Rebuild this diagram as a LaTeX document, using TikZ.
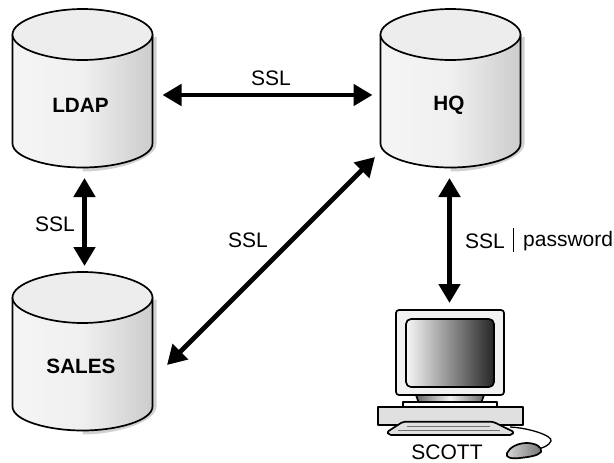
\documentclass[tikz,border=0pt]{standalone}
\usepackage{fontspec}
\setmainfont{Liberation Sans}
\usetikzlibrary{arrows.meta}
\definecolor{topc}{gray}{0.93}
\definecolor{shadowc}{gray}{0.82}
\tikzset{
  x=1pt,y=-1pt,
  dbbox/.style={minimum width=140pt,minimum height=158pt,inner sep=0pt,outer sep=0pt},
  dbtext/.style={font=\fontsize{20.7}{22}\selectfont\bfseries,inner sep=0pt},
  lbl/.style={font=\fontsize{21}{23}\selectfont,inner sep=0pt},
  link/.style={line width=4.8pt,{Triangle[length=19pt,width=21pt]}-{Triangle[length=19pt,width=21pt]}},
  outl/.style={draw=black,line width=1.7pt,line join=round}
}
\newcommand{\dbcyl}[2]{% left x, top-center y
  \fill[shadowc] (#1+144,#2+2) -- (#1+144,#2+109) .. controls (#1+144,#2+124) and (#1+105,#2+137) .. (#1+70,#2+137) -- (#1+70,#2+20) -- cycle;
  \path[outl,left color=white!96!black,right color=black!20,middle color=black!6]
    (#1,#2) -- (#1,#2+109) .. controls (#1,#2+123) and (#1+35,#2+133) .. (#1+70,#2+133)
    .. controls (#1+105,#2+133) and (#1+140,#2+123) .. (#1+140,#2+109) -- (#1+140,#2) -- cycle;
  \path[outl,fill=topc] (#1,#2) .. controls (#1,#2-14) and (#1+35,#2-25.5) .. (#1+70,#2-25.5)
    .. controls (#1+105,#2-25.5) and (#1+140,#2-14) .. (#1+140,#2)
    .. controls (#1+140,#2+14) and (#1+105,#2+25.5) .. (#1+70,#2+25.5)
    .. controls (#1+35,#2+25.5) and (#1,#2+14) .. (#1,#2) -- cycle;
}
\begin{document}
\begin{tikzpicture}
\useasboundingbox (0,0) rectangle (614,463);
\dbcyl{12.5}{34.5}
\dbcyl{380.5}{34.5}
\dbcyl{12.5}{297.5}
\node[dbbox] (ldap) at (82.5,88) {};
\node[dbbox] (hq) at (450.5,88) {};
\node[dbbox] (sales) at (82.5,351) {};
\node[dbtext] (ldapt) at (80.5,105) {LDAP};
\node[dbtext] (hqt) at (449,105) {HQ};
\node[dbtext] (salest) at (81,366) {SALES};
% computer
\path[outl,fill=black!12] (378,407) rectangle (523,425);
\path[outl,fill=white] (403,402) rectangle (497,407);
\path[outl,left color=black!60,right color=black!60,middle color=black!5] (416,395) -- (418.5,402) -- (481.5,402) -- (484,395) -- cycle;
\path[outl,fill=black!5,rounded corners=3pt] (396,310) rectangle (504,395);
\path[outl,left color=black!3,right color=black!85,rounded corners=5pt] (406,319) rectangle (494,387);
\draw[black,line width=1.3pt] (510,427) .. controls (530,428) and (553,436) .. (551,441) .. controls (549,446) and (542,448) .. (538,449);
\path[outl,fill=black!12,rounded corners=2pt] (403,421.7) -- (493,421.7) -- (514,432) -- (512,435) -- (389,435) -- (387,432) -- cycle;
\draw[black!55,line width=.8pt] (407,426) -- (490,426) (398,430) -- (500,430);
\path[outl,left color=black!15,right color=black!55] (507,453) .. controls (510,447) and (518,443) .. (527,443) .. controls (535,443) and (543,447) .. (541,452) .. controls (538,456) and (528,457) .. (520,458) .. controls (512,459) and (505,458) .. (507,453) -- cycle;
\coordinate (pc) at (449.5,303);
\node[lbl] (scott) at (447,452.5) {SCOTT};
% connectors
\draw[link,shorten <=10pt,shorten >=8pt] (ldap.east |- 0,95) -- (hq.west |- 0,95);
\draw[link,shorten <=11pt,shorten >=6pt] ([xshift=2pt]ldap.south) -- ([xshift=2pt]sales.north);
\draw[link] ([shift={(-5.5,-10)}]hq.south west) -- ([shift={(14.5,14)}]sales.east);
\draw[link,shorten <=11pt] ([xshift=-1pt]hq.south) -- (pc);
% labels
\node[lbl] (s1) at (271,78) {SSL};
\node[lbl] (s2) at (55,224) {SSL};
\node[lbl] (s3) at (248,240) {SSL};
\node[lbl] (s4) at (485,241) {SSL};
\draw[line width=1pt] (513,228) coordinate (bt) -- (513,252) coordinate (bb);
\node[lbl,anchor=west] (pw) at (523,241) {password};
\end{tikzpicture}
\end{document}
